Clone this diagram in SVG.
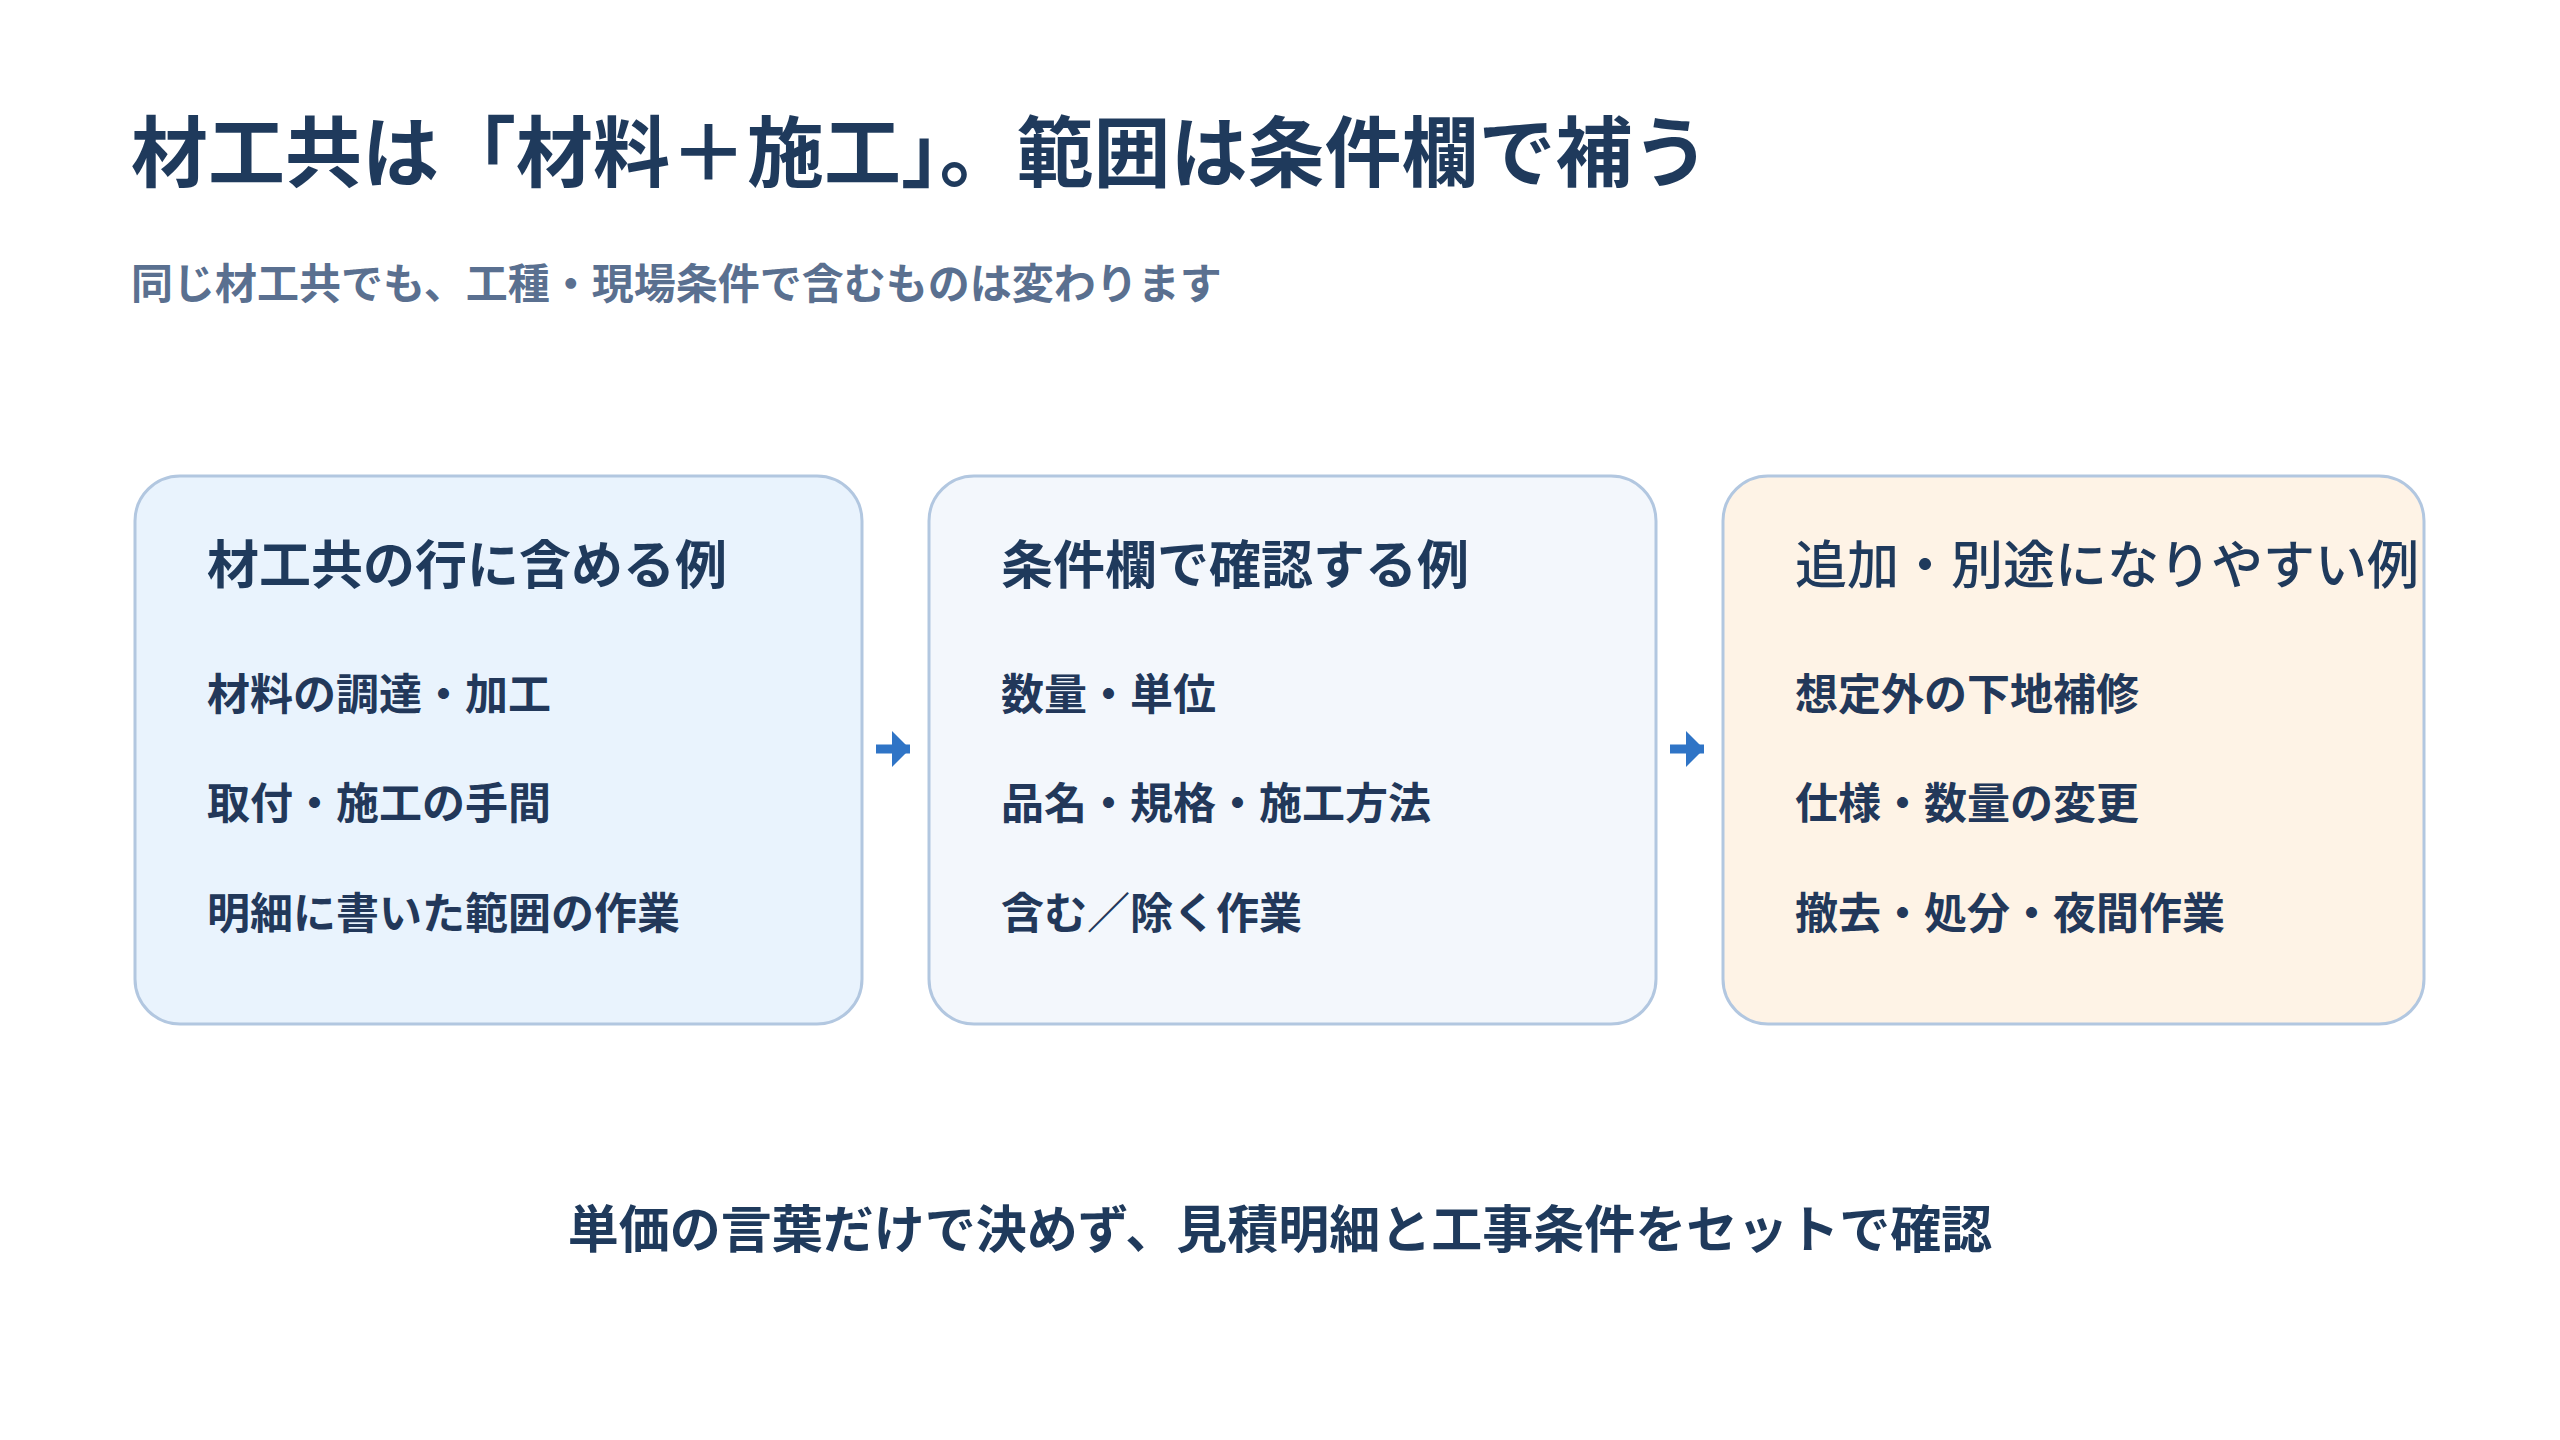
<svg xmlns="http://www.w3.org/2000/svg" width="2560" height="1440" viewBox="0 0 2560 1440">
<style>
text{font-family:"Noto Sans CJK JP","Noto Sans",sans-serif;font-weight:700;fill:#1f3a5c}
.box{stroke:#b2c7e0;stroke-width:3}
.h{font-size:52px}
.i{font-size:43px;fill:#22385a}
</style>
<defs><marker id="ah" markerWidth="4" markerHeight="4" refX="2" refY="2" orient="auto" markerUnits="strokeWidth"><path d="M0,0 L2,2 L0,4 z" fill="#2f74c6"/></marker></defs>
<rect width="2560" height="1440" fill="#fff"/>
<text x="131" y="181" font-size="77">材工共は「材料＋施工」。範囲は条件欄で補う</text>
<text x="131" y="299" font-size="42" style="fill:#5a7090">同じ材工共でも、工種・現場条件で含むものは変わります</text>
<g id="box1"><rect class="box" x="135" y="476" width="727" height="548" rx="45" fill="#e9f3fd"/>
<text class="h" x="207" y="584">材工共の行に含める例</text>
<text class="i" x="207" y="710">材料の調達・加工</text>
<text class="i" x="207" y="819">取付・施工の手間</text>
<text class="i" x="207" y="929">明細に書いた範囲の作業</text></g>
<g id="box2"><rect class="box" x="929" y="476" width="727" height="548" rx="45" fill="#f3f7fc"/>
<text class="h" x="1001" y="584">条件欄で確認する例</text>
<text class="i" x="1001" y="710">数量・単位</text>
<text class="i" x="1001" y="819">品名・規格・施工方法</text>
<text class="i" x="1001" y="929">含む／除く作業</text></g>
<g id="box3"><rect class="box" x="1723" y="476" width="701" height="548" rx="45" fill="#fef3e6"/>
<text class="h" x="1795" y="584" style="font-weight:500">追加・別途になりやすい例</text>
<text class="i" x="1795" y="710">想定外の下地補修</text>
<text class="i" x="1795" y="819">仕様・数量の変更</text>
<text class="i" x="1795" y="929">撤去・処分・夜間作業</text></g>
<g id="connectors" stroke="#2f74c6" stroke-width="9" marker-end="url(#ah)">
<line x1="876" y1="749" x2="910" y2="749"/>
<line x1="1670" y1="749" x2="1704" y2="749"/>
</g>
<text x="1280" y="1248" font-size="51" text-anchor="middle">単価の言葉だけで決めず、見積明細と工事条件をセットで確認</text>
</svg>
